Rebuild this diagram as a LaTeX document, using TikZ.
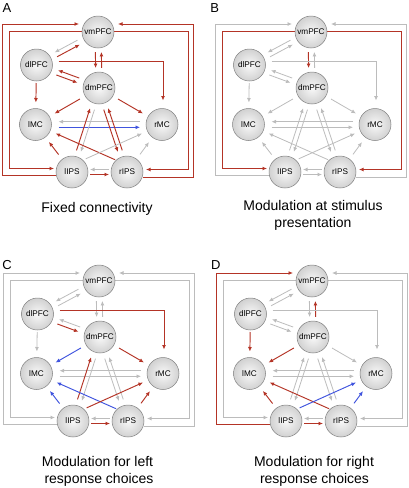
\documentclass[tikz,border=0pt]{standalone}
\usepackage{fontspec}
\setmainfont{Liberation Sans}
\usetikzlibrary{calc,arrows.meta,backgrounds}
\definecolor{redc}{RGB}{180,52,38}
\definecolor{bluec}{RGB}{64,84,222}
\definecolor{grayc}{RGB}{188,188,188}
\newcounter{ecnt}
\makeatletter
\def\colset#1{\setcounter{ecnt}{0}\colset@aux#1\relax}
\def\colset@aux#1{\ifx#1\relax\else\stepcounter{ecnt}\edef\@tmp{\noexpand\tikzset{E\arabic{ecnt}/.style={edge#1}}}\@tmp\expandafter\colset@aux\fi}
\makeatother
% parallel edge: style, from, to, offset, shorten start, shorten end
\newcommand\pe[6]{\draw[#1,shorten <=#5pt,shorten >=#6pt] let \p1=(#2.center), \p2=(#3.center), \n1={atan2(\y2-\y1,\x2-\x1)} in ($(\p1)+(\n1-90:#4pt)$) -- ($(\p2)+(\n1-90:#4pt)$);}
\newcommand\drawpanel[1]{%
  \node[reg] (#1-vm) at (98,32) {vmPFC};
  \node[reg] (#1-dl) at (36.5,65) {dlPFC};
  \node[reg] (#1-dm) at (99,88) {dmPFC};
  \node[reg] (#1-lm) at (35.5,124.5) {lMC};
  \node[reg] (#1-rm) at (162,124.5) {rMC};
  \node[reg] (#1-li) at (72,172) {lIPS};
  \node[reg] (#1-ri) at (127,172) {rIPS};
  \begin{scope}[on background layer]
  \pe{E1}{#1-vm}{#1-dl}{2.5}{22}{22}
  \pe{E2}{#1-dl}{#1-vm}{2.5}{22}{22}
  \pe{E3}{#1-vm}{#1-dm}{3}{20}{20}
  \pe{E4}{#1-dm}{#1-vm}{3}{20}{20}
  \pe{E5}{#1-dl}{#1-dm}{2.5}{22}{22}
  \pe{E6}{#1-dm}{#1-dl}{2.5}{22}{22}
  \draw[E7] ($(#1-dl)+(22,-3.3)$) -| ($(#1-rm)+(1,-24)$);
  \pe{E8}{#1-dl}{#1-lm}{0}{18}{22}
  \pe{E9}{#1-dm}{#1-lm}{0}{22}{22}
  \pe{E10}{#1-dm}{#1-rm}{0}{22}{22}
  \pe{E11}{#1-rm}{#1-lm}{2.8}{22}{23}
  \pe{E12}{#1-lm}{#1-rm}{2.8}{23}{22}
  \pe{E13}{#1-li}{#1-dm}{-2.3}{22}{22}
  \pe{E14}{#1-dm}{#1-li}{-2.3}{22}{22}
  \pe{E15}{#1-dm}{#1-ri}{2.3}{22}{22}
  \pe{E16}{#1-ri}{#1-dm}{2.3}{22}{22}
  \draw[E17,shorten <=13pt,shorten >=22pt] ($(#1-ri)+(0,-7)$) -- (#1-lm.center);
  \draw[E18,shorten <=15pt,shorten >=22pt] ($(#1-li)+(0,-7)$) -- (#1-rm.center);
  \pe{E19}{#1-li}{#1-lm}{0}{22}{22}
  \pe{E20}{#1-ri}{#1-rm}{0}{22}{22}
  \pe{E21}{#1-ri}{#1-li}{2.5}{18}{18}
  \pe{E22}{#1-li}{#1-ri}{2.5}{18}{18}
  \draw[E23] ($(#1-li)+(-16,3.5)$) -| ($(#1-vm)+(-96,-8)$) -- ($(#1-vm)+(-19,-8)$);
  \draw[E24] ($(#1-vm)+(-16,-1)$) -| ($(#1-li)+(-63,-3.5)$) -- ($(#1-li)+(-18,-3.5)$);
  \draw[E25] ($(#1-ri)+(16,5.5)$) -| ($(#1-vm)+(95,-8)$) -- ($(#1-vm)+(20,-8)$);
  \draw[E26] ($(#1-vm)+(16,-1)$) -| ($(#1-ri)+(61,-2.5)$) -- ($(#1-ri)+(19,-2.5)$);
  \end{scope}}
\begin{document}
\begin{tikzpicture}[x=1pt,y=-1pt,
  reg/.style={circle,minimum size=32pt,inner sep=0pt,draw=black!50,line width=0.5pt,inner color=gray!5,outer color=gray!36,font=\fontsize{8.2}{9}\selectfont},
  edgeall/.style={-{Latex[length=4.5pt,width=4pt]}},
  edger/.style={edgeall,draw=redc,line width=0.95pt},
  edgeg/.style={edgeall,draw=grayc,line width=0.8pt},
  edgeb/.style={edgeall,draw=bluec,line width=0.95pt},
  captxt/.style={anchor=base,font=\fontsize{14}{16}\selectfont,inner sep=0pt},
  lett/.style={font=\fontsize{13}{14}\selectfont,inner sep=0pt}]
\useasboundingbox (0,0) rectangle (408,488);
\colset{grrrr rrrrr gbrgr rrgrg grrrr r}
\begin{scope}\drawpanel{A}\end{scope}
\colset{ggrgg ggggg ggggg ggggg gggrg r}
\begin{scope}[shift={(213,0)}]\drawpanel{B}\end{scope}
\colset{ggggr grgbr ggrgg gbrbr grggg g}
\begin{scope}[shift={(1,249)}]\drawpanel{C}\end{scope}
\colset{gggrg ggrrg ggggg grbrb grrgg g}
\begin{scope}[shift={(214,249)}]\drawpanel{D}\end{scope}
\node[lett] (la) at (7,8.5) {A};
\node[lett] (lb) at (214.7,8.3) {B};
\node[lett] (lc) at (7,264.7) {C};
\node[lett] (ld) at (215.7,265) {D};
\node[captxt] (ca) at (97,212.7) {Fixed connectivity};
\node[captxt] (cb1) at (313,210.7) {Modulation at stimulus};
\node[captxt] (cb2) at (313,227.3) {presentation};
\node[captxt] (cc1) at (97.5,466.7) {Modulation for left};
\node[captxt] (cc2) at (99,483.3) {response choices};
\node[captxt] (cd1) at (314,466.7) {Modulation for right};
\node[captxt] (cd2) at (314.5,483.3) {response choices};
\end{tikzpicture}
\end{document}
